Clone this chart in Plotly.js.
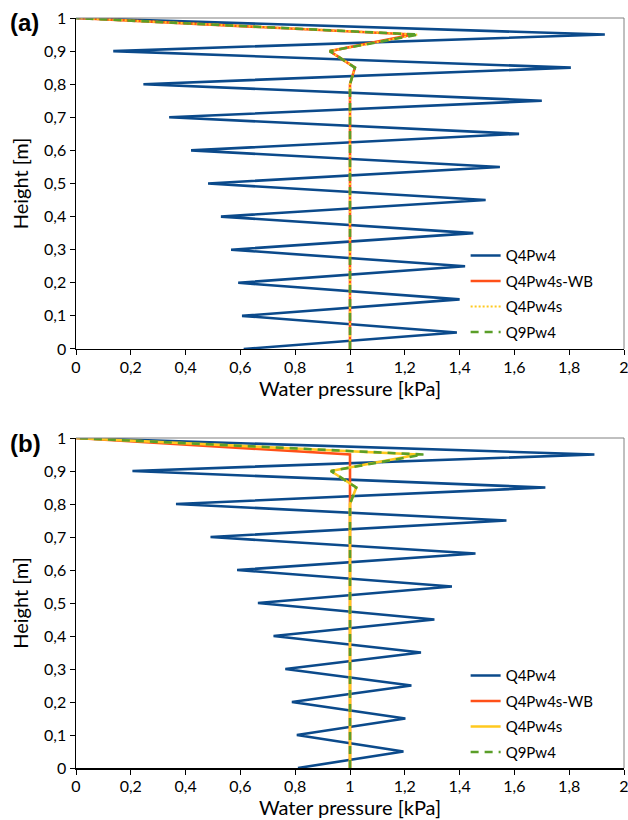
<!DOCTYPE html>
<html>
<head>
<meta charset="utf-8">
<script src="https://cdn.plot.ly/plotly-3.0.1.min.js"></script>
<style>html,body{margin:0;padding:0;background:#fff;}#chart{width:628px;height:820px;}</style>
</head>
<body>
<div id="chart"></div>
<script>
// Heights [m]
const heightsZigzag = [0,0.05,0.1,0.15,0.2,0.25,0.3,0.35,0.4,0.45,0.5,0.55,0.6,0.65,0.7,0.75,0.8,0.85,0.9,0.95,1];
// Panel (a) Q4Pw4 water pressure [kPa]
const q4pw4_a = [0.612,1.39,0.606,1.40,0.592,1.42,0.566,1.45,0.529,1.495,0.482,1.547,0.42,1.617,0.34,1.70,0.246,1.806,0.136,1.93,0];
// Panel (b) Q4Pw4 water pressure [kPa]
const q4pw4_b = [0.81,1.195,0.806,1.202,0.788,1.224,0.764,1.259,0.721,1.308,0.664,1.372,0.588,1.458,0.491,1.571,0.365,1.713,0.206,1.892,0];

const heightsSmooth = [0,0.8,0.85,0.9,0.95,1];
const wb_a   = [1,1,1.018,0.926,1.23,0];
const q4s_a  = [1,1,1.018,0.926,1.245,0];
const q9_a   = [1,1,1.018,0.926,1.25,0];

const heightsWB_b = [0,0.95,1];
const wb_b   = [1,1,0];
const q4s_b  = [1,1,1.023,0.93,1.25,0];
const q9_b   = [1,1,1.023,0.93,1.268,0];

const names = ['Q4Pw4','Q4Pw4s-WB','Q4Pw4s','Q9Pw4'];
const navy = '#0b4a8b', orange = '#ff5018', yellow = '#ffc91e', green = '#5a9e28';

const font = 'Lato, "Open Sans", sans-serif';

function tr(x, y, name, color, dash, width, xa, ya, leg, group) {
  return {x: x, y: y, type: 'scatter', mode: 'lines', name: name,
    line: {color: color, width: width, dash: dash},
    xaxis: xa, yaxis: ya, legend: leg, legendgroup: group, hoverinfo: 'skip'};
}

const data = [
  tr(q4pw4_a, heightsZigzag, names[0], navy, 'solid', 2.6, 'x', 'y', 'legend', 'a1'),
  tr(wb_a, heightsSmooth, names[1], orange, 'solid', 2.6, 'x', 'y', 'legend', 'a2'),
  tr(q4s_a, heightsSmooth, names[2], yellow, '2px,2px', 2.2, 'x', 'y', 'legend', 'a3'),
  tr(q9_a, heightsSmooth, names[3], green, '8px,6px', 2.6, 'x', 'y', 'legend', 'a4'),
  tr(q4pw4_b, heightsZigzag, names[0], navy, 'solid', 2.6, 'x2', 'y2', 'legend2', 'b1'),
  tr(wb_b, heightsWB_b, names[1], orange, 'solid', 2.6, 'x2', 'y2', 'legend2', 'b2'),
  tr(q4s_b, heightsSmooth, names[2], yellow, 'solid', 2.6, 'x2', 'y2', 'legend2', 'b3'),
  tr(q9_b, heightsSmooth, names[3], green, '8px,6px', 2.6, 'x2', 'y2', 'legend2', 'b4')
];

const xTicks = [0,0.2,0.4,0.6,0.8,1,1.2,1.4,1.6,1.8,2];
const yTicks = [0,0.1,0.2,0.3,0.4,0.5,0.6,0.7,0.8,0.9,1];

function xaxis(anchor) {
  return {range: [0,2], anchor: anchor, domain: [0,1], tickvals: xTicks,
    ticks: 'outside', ticklen: 5, tickcolor: '#000', tickwidth: 1, ticklabelstandoff: -2,
    ticklabeloverflow: 'allow',
    showline: true, linecolor: '#000', linewidth: 1.5, showgrid: false, zeroline: false,
    tickfont: {family: font, size: 16, color: '#000'},
    title: {text: 'Water pressure [kPa]', font: {family: font, size: 20, color: '#000'}, standoff: 0}};
}
function yaxis(anchor, dom) {
  return {range: [0,1], anchor: anchor, domain: dom, tickvals: yTicks,
    ticks: 'outside', ticklen: 5, tickcolor: '#000', tickwidth: 1,
    showline: true, linecolor: '#000', linewidth: 1.5, showgrid: false, zeroline: false,
    tickfont: {family: font, size: 16, color: '#000'},
    title: {text: 'Height [m]', font: {family: font, size: 20, color: '#000'}, standoff: 10}};
}

const legendStyle = {font: {family: font, size: 15, color: '#000'}, bgcolor: 'rgba(0,0,0,0)',
  xanchor: 'left', yanchor: 'top', tracegroupgap: 3, itemwidth: 30};

const layout = {
  width: 628, height: 820,
  margin: {l: 76, r: 4, t: 18, b: 52},
  paper_bgcolor: '#fff', plot_bgcolor: '#fff',
  separators: ', ',
  showlegend: true,
  xaxis: xaxis('y'),
  yaxis: yaxis('x', [0.5587, 1]),
  xaxis2: xaxis('y2'),
  yaxis2: yaxis('x2', [0, 0.44]),
  legend: Object.assign({x: 0.711, y: 0.705}, legendStyle),
  legend2: Object.assign({x: 0.711, y: 0.145}, legendStyle),
  shapes: [
    {type: 'line', xref: 'x domain', yref: 'y domain', x0: 0, x1: 1, y0: 1, y1: 1, line: {color: '#808080', width: 1}},
    {type: 'line', xref: 'x domain', yref: 'y domain', x0: 1, x1: 1, y0: 0, y1: 1, line: {color: '#808080', width: 1}},
    {type: 'line', xref: 'x2 domain', yref: 'y2 domain', x0: 0, x1: 1, y0: 1, y1: 1, line: {color: '#808080', width: 1}},
    {type: 'line', xref: 'x2 domain', yref: 'y2 domain', x0: 1, x1: 1, y0: 0, y1: 1, line: {color: '#808080', width: 1}}
  ],
  annotations: [
    {text: '<b>(a)</b>', xref: 'paper', yref: 'paper', x: -0.125, y: 1.014, xanchor: 'left', yanchor: 'top', showarrow: false,
      font: {family: 'Liberation Sans, Arial, sans-serif', size: 24, color: '#000'}},
    {text: '<b>(b)</b>', xref: 'paper', yref: 'paper', x: -0.125, y: 0.454, xanchor: 'left', yanchor: 'top', showarrow: false,
      font: {family: 'Liberation Sans, Arial, sans-serif', size: 24, color: '#000'}}
  ]
};

Plotly.newPlot('chart', data, layout, {staticPlot: true});
</script>
</body>
</html>
